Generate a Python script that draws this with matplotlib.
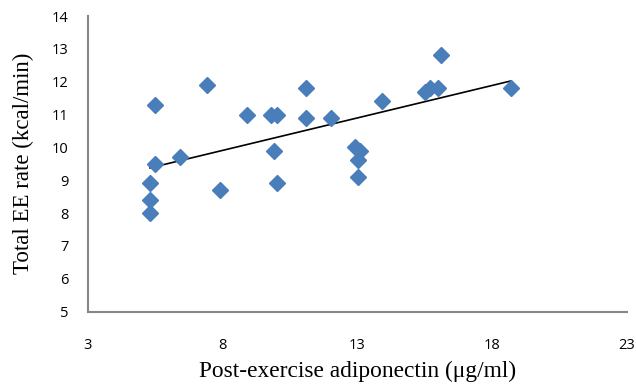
import numpy as np
import matplotlib
matplotlib.use("Agg")
import matplotlib.pyplot as plt

adiponectin = [5.3, 5.3, 5.3, 5.5, 5.5, 6.4, 7.4, 7.9, 8.9, 9.8, 10.0, 9.9, 10.0,
               11.1, 11.1, 12.0, 12.9, 13.1, 13.0, 13.0, 13.9, 15.5, 15.7, 16.0, 16.1, 18.7]
ee_rate = [8.0, 8.4, 8.9, 9.5, 11.3, 9.7, 11.9, 8.7, 11.0, 11.0, 11.0, 9.9, 8.9,
           11.8, 10.9, 10.9, 10.0, 9.9, 9.6, 9.1, 11.4, 11.7, 11.8, 11.8, 12.8, 11.8]
x_ticks = [3, 8, 13, 18, 23]
y_ticks = [5, 6, 7, 8, 9, 10, 11, 12, 13, 14]

fig = plt.figure(figsize=(6.36, 3.84), dpi=100)
ax = fig.add_axes([88/636, 1-311.5/384, (627-88)/636, (311.5-16)/384])

x = np.array(adiponectin)
y = np.array(ee_rate)
ax.plot(x, y, linestyle='none', marker='D', markersize=7.8, color='#4a7ebb',
        markeredgecolor='#4a7ebb', zorder=3, clip_on=False)
m, b = np.polyfit(x, y, 1)
xs = np.array([x.min(), x.max()])
ax.plot(xs, m*xs + b, color='black', linewidth=1.2, zorder=2)

ax.set_xlim(3, 23)
ax.set_ylim(5, 14)
ax.set_xticks(x_ticks)
ax.set_yticks(y_ticks)
for s in ['top', 'right']:
    ax.spines[s].set_visible(False)
for s in ['left', 'bottom']:
    ax.spines[s].set_color('#868686')
    ax.spines[s].set_linewidth(1.5)
ax.tick_params(length=0, labelsize=10.5, labelcolor='black')
ax.tick_params(axis='x', pad=19)
ax.tick_params(axis='y', pad=14)
for lab in ax.get_xticklabels() + ax.get_yticklabels():
    lab.set_family('Open Sans')

ax.set_xlabel('Post-exercise adiponectin (μg/ml)', family='Liberation Serif', fontsize=16.8, labelpad=6)
ax.set_ylabel('Total EE rate (kcal/min)', family='Liberation Serif', fontsize=16.5, labelpad=13)

fig.savefig('out.png', dpi=100)
